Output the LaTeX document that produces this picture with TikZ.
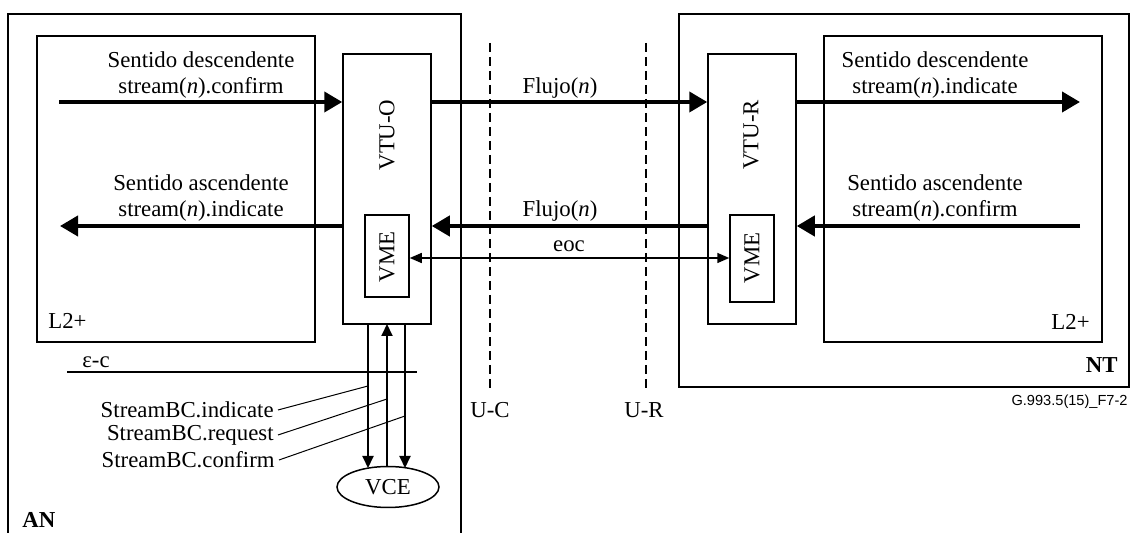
\documentclass[tikz,border=0pt]{standalone}
\usepackage{fontspec}
\setmainfont{Liberation Serif}
\newfontfamily\figsans{Liberation Sans}
\usetikzlibrary{arrows.meta,fit,shapes.geometric}
\begin{document}
\begin{tikzpicture}[x=0.5pt,y=-0.5pt,
  box/.style={draw,line width=0.75pt,inner sep=0pt},
  lbl/.style={inner sep=0pt,font=\fontsize{11.4}{13}\selectfont},
  bigarrow/.style={line width=2pt,-{Triangle[length=9pt,width=10pt]}},
  thinarrow/.style={line width=1pt,-{Triangle[length=6pt,width=5.5pt]}},
  eocarrow/.style={line width=0.75pt,{Triangle[length=6pt,width=5pt]}-{Triangle[length=6pt,width=5pt]}},
  leader/.style={line width=0.5pt},
  bound/.style={dashed,line width=0.8pt,dash pattern=on 4.5pt off 2.5pt}]
\useasboundingbox (0,0) rectangle (1131,533);
% AN outer box (open at bottom)
\draw[line width=0.75pt] (8,536) -- (8,14) -- (461,14) -- (461,536);
% NT outer box
\node[box,fit={(679,14) (1129,387)}] (nt) {};
% inner boxes
\node[box,fit={(37,36) (315,342)}] (l2l) {};
\node[box,fit={(824,36) (1102,342)}] (l2r) {};
\node[box,fit={(343,54) (431,324)}] (vtuo) {};
\node[box,fit={(708,54) (796,324)}] (vtur) {};
\node[box,fit={(365,215) (409,297)}] (vmel) {};
\node[box,fit={(730,215) (774,302)}] (vmer) {};
\node[draw,line width=0.75pt,ellipse,minimum width=51pt,minimum height=20.5pt,inner sep=0pt] (vce) at (388,487) {};
\node[lbl] at (vce.center) {VCE};
% rotated labels
\node[lbl,rotate=90] (tvtuo) at (387,135) {VTU-O};
\node[lbl,rotate=90] (tvtur) at (751,135) {VTU-R};
\node[lbl,rotate=90] (tvmel) at (387,257) {VME};
\node[lbl,rotate=90] (tvmer) at (752,258) {VME};
% reference points boundaries
\coordinate (uct) at (490,43); \coordinate (ucb) at (490,390);
\coordinate (urt) at (646,43); \coordinate (urb) at (646,390);
\draw[bound] (uct) -- (ucb);
\draw[bound] (urt) -- (urb);
\node[lbl] (uc) at (490,410) {U-C};
\node[lbl] (ur) at (644,410) {U-R};
% arrows
\coordinate (s1) at (59,102);
\coordinate (s2) at (60,226);
\coordinate (s3) at (1080,102);
\coordinate (s4) at (1080,226);
\draw[bigarrow] (s1) -- (vtuo.west |- s1);
\draw[bigarrow] (vtuo.west |- s2) -- (s2);
\draw[bigarrow] (vtuo.east |- s1) -- (vtur.west |- s1);
\draw[bigarrow] (vtur.west |- s2) -- (vtuo.east |- s2);
\draw[bigarrow] (vtur.east |- s3) -- (s3);
\draw[bigarrow] (s4) -- (vtur.east |- s4);
\coordinate (e1) at (409,258);
\draw[eocarrow] (vmel.east |- e1) -- (vmer.west |- e1);
% labels
\node[lbl,align=center] (t1) at (201,75) {Sentido descendente\\stream(\textit{n}).confirm};
\node[lbl,align=center] (t2) at (201,198) {Sentido ascendente\\stream(\textit{n}).indicate};
\node[lbl,align=center] (t3) at (935,75) {Sentido descendente\\stream(\textit{n}).indicate};
\node[lbl,align=center] (t4) at (935,198) {Sentido ascendente\\stream(\textit{n}).confirm};
\node[lbl] (f1) at (560,88) {Flujo(\textit{n})};
\node[lbl] (f2) at (560,211) {Flujo(\textit{n})};
\node[lbl] (eoc) at (569,246) {eoc};
\node[lbl,anchor=west] (l2lt) at (48,321) {L2+};
\node[lbl,anchor=east] (l2rt) at (1090,322) {L2+};
\node[lbl,anchor=east,font=\fontsize{11.4}{13}\selectfont\bfseries] (ntt) at (1118,365) {NT};
\node[lbl,anchor=west,font=\fontsize{11.4}{13}\selectfont\bfseries] (ant) at (22,520) {AN};
\node[inner sep=0pt,anchor=east,font=\figsans\fontsize{7.3}{9}\selectfont] (ref) at (1128,402) {G.993.5(15)\_F7-2};
% epsilon-c
\node[lbl,anchor=west] (eps) at (82,362) {ε-c};
\coordinate (ea) at (67,372); \coordinate (eb) at (417,372);
\draw[line width=0.75pt] (ea) -- (eb);
% vertical VCE arrows
\coordinate (v1) at (368,324); \coordinate (v2) at (387,324); \coordinate (v3) at (405,324);
\draw[thinarrow] (v1) -- (v1 |- 0,468);
\draw[thinarrow] (v2 |- 0,467) -- (v2);
\draw[thinarrow] (v3) -- (v3 |- 0,468);
% StreamBC labels
\node[lbl,anchor=east] (sb1) at (274,410) {StreamBC.indicate};
\node[lbl,anchor=east] (sb2) at (274,435) {StreamBC.request};
\node[lbl,anchor=east] (sb3) at (275,460) {StreamBC.confirm};
\coordinate (p1) at (368,386); \coordinate (p2) at (387,399); \coordinate (p3) at (405,416);
\draw[leader] ([xshift=2pt]sb1.east) -- (p1);
\draw[leader] ([xshift=2pt]sb2.east) -- (p2);
\draw[leader] ([xshift=2pt]sb3.east) -- (p3);
\end{tikzpicture}
\end{document}
